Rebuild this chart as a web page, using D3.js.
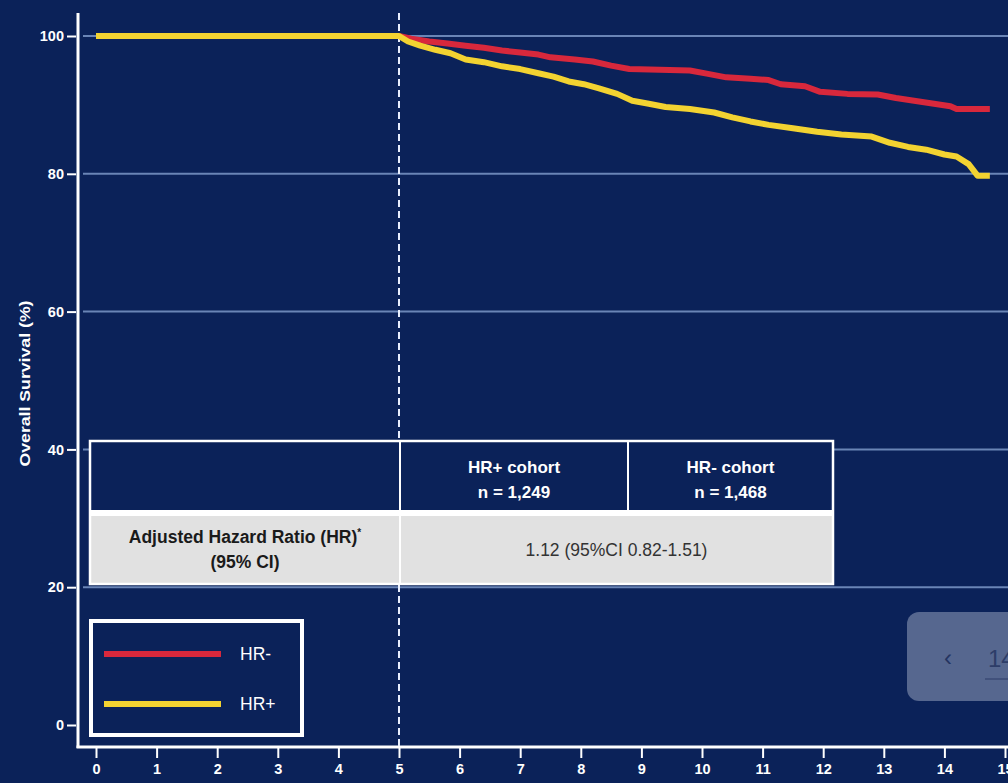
<!DOCTYPE html>
<html>
<head>
<meta charset="utf-8">
<script src="https://cdn.jsdelivr.net/npm/d3@7"></script>
<style>
  html, body { margin: 0; padding: 0; background: #0b2259; overflow: hidden; }
  svg { display: block; }
  text { font-family: "Liberation Sans", Arial, sans-serif; }
</style>
</head>
<body>
<svg id="chart" width="1008" height="783"></svg>
<script>
// Kaplan–Meier overall survival, years from diagnosis
const yearTicks = [0, 1, 2, 3, 4, 5, 6, 7, 8, 9, 10, 11, 12, 13, 14, 15];
const survivalTicks = [0, 20, 40, 60, 80, 100];

const hrNegTime = [0, 5, 5.2, 5.5, 5.8, 6.1, 6.4, 6.7, 7.0, 7.3, 7.5, 7.9, 8.2, 8.5, 8.8, 9.3, 9.8, 10.1, 10.4, 10.8, 11.1, 11.3, 11.7, 11.95, 12.4, 12.9, 13.2, 13.5, 13.8, 14.1, 14.2, 14.75];
const hrNegSurv = [100, 100, 99.6, 99.2, 98.9, 98.6, 98.3, 97.9, 97.6, 97.3, 96.9, 96.6, 96.3, 95.7, 95.2, 95.1, 95.0, 94.5, 94.0, 93.8, 93.6, 93.0, 92.7, 91.9, 91.6, 91.5, 91.0, 90.6, 90.2, 89.8, 89.4, 89.4];

const hrPosTime = [0, 5, 5.15, 5.35, 5.6, 5.85, 6.1, 6.4, 6.7, 7.0, 7.3, 7.55, 7.8, 8.05, 8.3, 8.6, 8.85, 9.1, 9.4, 9.8, 10.2, 10.5, 10.8, 11.1, 11.5, 11.9, 12.3, 12.8, 13.1, 13.4, 13.7, 14.0, 14.2, 14.4, 14.55, 14.75];
const hrPosSurv = [100, 100, 99.2, 98.6, 98.0, 97.5, 96.6, 96.2, 95.6, 95.2, 94.6, 94.1, 93.4, 93.0, 92.4, 91.6, 90.6, 90.2, 89.7, 89.4, 88.9, 88.2, 87.6, 87.1, 86.6, 86.1, 85.7, 85.4, 84.5, 83.9, 83.5, 82.8, 82.5, 81.4, 79.7, 79.7];

const seriesNames = ["HR-", "HR+"];
const seriesColors = ["#d8283c", "#f3d331"];

const landmarkYear = 5;

const tableHeaders = [["HR+ cohort", "n = 1,249"], ["HR- cohort", "n = 1,468"]];
const rowLabel = ["Adjusted Hazard Ratio (HR)", "(95% CI)"];
const rowValue = "1.12 (95%CI 0.82-1.51)";

const svg = d3.select("#chart");
const W = 1008, H = 783;
const bg = "#0b2259";

svg.append("rect").attr("width", W).attr("height", H).attr("fill", bg);

const x = d3.scaleLinear().domain([0, 15]).range([96, 1005]);
const y = d3.scaleLinear().domain([0, 100]).range([725, 36]);

const axisX = 78, axisY = 747, topY = 13;
const narrow = "'Liberation Sans Narrow', 'Liberation Sans', Arial, sans-serif";

// horizontal gridlines
svg.append("g").selectAll("line")
  .data(survivalTicks.filter(d => d > 0))
  .join("line")
  .attr("x1", 83).attr("x2", W)
  .attr("y1", d => y(d)).attr("y2", d => y(d))
  .attr("stroke", "#6a85b6").attr("stroke-width", 2);

// y axis
const yAxis = d3.axisLeft(y).tickValues(survivalTicks).tickSize(10).tickPadding(4);
const gy = svg.append("g").attr("transform", `translate(${axisX},0)`).call(yAxis);
gy.select(".domain").remove();
gy.selectAll(".tick line").attr("stroke", "#fff").attr("stroke-width", 2).attr("x2", -11).attr("x1", -2);
gy.selectAll(".tick text").attr("fill", "#fff").attr("font-size", 14.5).attr("font-weight", "bold")
  .attr("font-family", narrow);
svg.append("line").attr("x1", axisX).attr("x2", axisX).attr("y1", topY).attr("y2", axisY + 1)
  .attr("stroke", "#fff").attr("stroke-width", 3);

// x axis
const xAxis = d3.axisBottom(x).tickValues(yearTicks).tickSize(11).tickPadding(6);
const gx = svg.append("g").attr("transform", `translate(0,${axisY})`).call(xAxis);
gx.select(".domain").remove();
gx.selectAll(".tick line").attr("stroke", "#fff").attr("stroke-width", 2);
gx.selectAll(".tick text").attr("fill", "#fff").attr("font-size", 14.5).attr("font-weight", "bold")
  .attr("font-family", narrow);
svg.append("line").attr("x1", axisX - 1.5).attr("x2", W).attr("y1", axisY).attr("y2", axisY)
  .attr("stroke", "#fff").attr("stroke-width", 3);

// y axis title
svg.append("text")
  .attr("transform", `translate(30,${(y(0) + y(100)) / 2 + 3}) rotate(-90)`)
  .attr("text-anchor", "middle")
  .attr("fill", "#fff").attr("font-size", 14).attr("font-weight", "bold")
  .attr("textLength", 166).attr("lengthAdjust", "spacingAndGlyphs")
  .text("Overall Survival (%)");

// landmark line at 5 years
svg.append("line")
  .attr("x1", x(landmarkYear)).attr("x2", x(landmarkYear))
  .attr("y1", topY).attr("y2", axisY)
  .attr("stroke", "#e8eefc").attr("stroke-width", 2).attr("stroke-dasharray", "7,4");

// survival curves
const line = d3.line().x(d => x(d[0])).y(d => y(d[1])).curve(d3.curveLinear);
const curves = [
  d3.zip(hrNegTime, hrNegSurv),
  d3.zip(hrPosTime, hrPosSurv)
];
svg.append("g").selectAll("path")
  .data(curves)
  .join("path")
  .attr("d", line)
  .attr("fill", "none")
  .attr("stroke", (d, i) => seriesColors[i])
  .attr("stroke-width", 6)
  .attr("stroke-linejoin", "round");

// hazard ratio table
const tb = { left: 90, c1: 400, c2: 628, right: 833, top: 441, mid: 513, bottom: 584 };
const table = svg.append("g");
table.append("rect").attr("x", tb.left).attr("y", tb.top).attr("width", tb.right - tb.left)
  .attr("height", tb.mid - tb.top).attr("fill", bg);
table.append("rect").attr("x", tb.left).attr("y", tb.mid).attr("width", tb.right - tb.left)
  .attr("height", tb.bottom - tb.mid).attr("fill", "#e1e1e1");
table.append("rect").attr("x", tb.left).attr("y", tb.top).attr("width", tb.right - tb.left)
  .attr("height", tb.bottom - tb.top).attr("fill", "none").attr("stroke", "#fff").attr("stroke-width", 2.5);
table.append("line").attr("x1", tb.left).attr("x2", tb.right).attr("y1", tb.mid).attr("y2", tb.mid)
  .attr("stroke", "#fff").attr("stroke-width", 6);
table.append("line").attr("x1", tb.c1).attr("x2", tb.c1).attr("y1", tb.top).attr("y2", tb.bottom)
  .attr("stroke", "#fff").attr("stroke-width", 2);
table.append("line").attr("x1", tb.c2).attr("x2", tb.c2).attr("y1", tb.top).attr("y2", tb.mid)
  .attr("stroke", "#fff").attr("stroke-width", 2);

const headCenters = [(tb.c1 + tb.c2) / 2, (tb.c2 + tb.right) / 2];
tableHeaders.forEach((lines, i) => {
  lines.forEach((t, j) => {
    table.append("text").attr("x", headCenters[i]).attr("y", 473 + j * 25)
      .attr("text-anchor", "middle").attr("fill", "#fff")
      .attr("font-size", 17).attr("font-weight", "bold").text(t);
  });
});
const lab = table.append("text").attr("x", (tb.left + tb.c1) / 2).attr("y", 543)
  .attr("text-anchor", "middle").attr("fill", "#1a1a1a").attr("font-size", 17.5).attr("font-weight", "bold");
lab.append("tspan").text(rowLabel[0]);
lab.append("tspan").attr("dy", -7).attr("font-size", 10).text("*");
table.append("text").attr("x", (tb.left + tb.c1) / 2).attr("y", 568)
  .attr("text-anchor", "middle").attr("fill", "#1a1a1a").attr("font-size", 17.5).attr("font-weight", "bold")
  .text(rowLabel[1]);
table.append("text").attr("x", (tb.c1 + tb.right) / 2).attr("y", 556)
  .attr("text-anchor", "middle").attr("fill", "#333").attr("font-size", 17.5).text(rowValue);

// legend
const lg = svg.append("g");
lg.append("rect").attr("x", 91).attr("y", 621).attr("width", 211).attr("height", 114)
  .attr("fill", bg).attr("stroke", "#fff").attr("stroke-width", 4);
seriesNames.forEach((name, i) => {
  const ly = 654 + i * 50;
  lg.append("line").attr("x1", 104).attr("x2", 221).attr("y1", ly).attr("y2", ly)
    .attr("stroke", seriesColors[i]).attr("stroke-width", 6);
  lg.append("text").attr("x", 240).attr("y", ly + 6).attr("fill", "#fff").attr("font-size", 17.5).text(name);
});

// page navigation overlay in the corner
const nav = svg.append("g");
nav.append("rect").attr("x", 907).attr("y", 612).attr("width", 130).attr("height", 89).attr("rx", 12)
  .attr("fill", "#56678f");
nav.append("text").attr("x", 948).attr("y", 666).attr("text-anchor", "middle")
  .attr("fill", "#243461").attr("font-size", 24).text("‹");
nav.append("text").attr("x", 988).attr("y", 667).attr("fill", "#2d3d68").attr("font-size", 24).text("14");
nav.append("line").attr("x1", 985).attr("x2", W).attr("y1", 679).attr("y2", 679)
  .attr("stroke", "#2d3d68").attr("stroke-width", 1);
</script>
</body>
</html>
